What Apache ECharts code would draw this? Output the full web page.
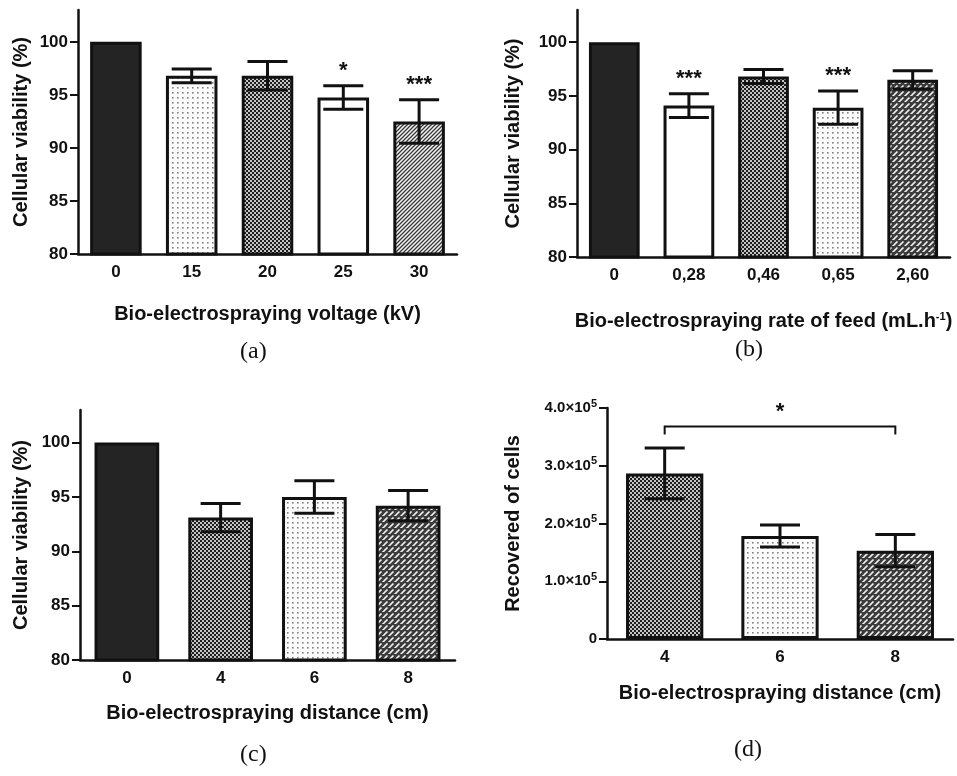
<!DOCTYPE html>
<html lang="en">
<head>
  <meta charset="UTF-8">
  <title>Bio-electrospraying</title>
  <script src="https://cdn.jsdelivr.net/npm/echarts@6/dist/echarts.min.js"></script>
  <style>
    html, body { margin: 0; padding: 0; background: #fff; }
    #main { width: 957px; height: 776px; }
  </style>
</head>
<body>
<div id="main"></div>
<script>
  // (a) voltage
  var catA = ['0', '15', '20', '25', '30'];
  var valA = [100, 96.8, 96.8, 94.75, 92.5];
  var errA = [0, 0.65, 1.35, 1.1, 2.05];
  var sigA = ['', '', '', '*', '***'];
  // (b) rate of feed
  var catB = ['0', '0,28', '0,46', '0,65', '2,60'];
  var valB = [100, 94.1, 96.8, 93.9, 96.5];
  var errB = [0, 1.1, 0.65, 1.55, 0.85];
  var sigB = ['', '***', '', '***', ''];
  // (c) distance
  var catC = ['0', '4', '6', '8'];
  var valC = [100, 93.1, 95.0, 94.2];
  var errC = [0, 1.3, 1.5, 1.4];
  var sigC = ['', '', '', ''];
  // (d) recovered cells
  var catD = ['4', '6', '8'];
  var valD = [286700, 178500, 153000];
  var errD = [44000, 19000, 28000];
  var sigD = ['', '', ''];
  var bracketD = [0, 2, 368000, '*'];

  var pctTicks = [80, 85, 90, 95, 100];

  var FONT = '"Liberation Sans", Arial, sans-serif';

  function makePattern(kind) {
    var c = document.createElement('canvas');
    var ctx = c.getContext('2d');
    if (kind == 'dots') {
      c.width = 5; c.height = 5;
      ctx.fillStyle = '#fbfbfb'; ctx.fillRect(0, 0, 5, 5);
      ctx.fillStyle = '#808080'; ctx.fillRect(2, 2, 1.6, 1.6);
    } else if (kind == 'checker') {
      c.width = 4; c.height = 4;
      ctx.fillStyle = '#c4c4c4'; ctx.fillRect(0, 0, 4, 4);
      ctx.fillStyle = '#1e1e1e';
      ctx.fillRect(0, 0, 2, 2); ctx.fillRect(2, 2, 2, 2);
    } else if (kind == 'hatch') {
      c.width = 4; c.height = 4;
      ctx.fillStyle = '#f4f4f4'; ctx.fillRect(0, 0, 4, 4);
      ctx.strokeStyle = '#3a3a3a'; ctx.lineWidth = 1.3;
      ctx.beginPath();
      ctx.moveTo(-1, 1); ctx.lineTo(1, -1);
      ctx.moveTo(0, 4); ctx.lineTo(4, 0);
      ctx.moveTo(3, 5); ctx.lineTo(5, 3);
      ctx.stroke();
    } else if (kind == 'brick') {
      c.width = 6; c.height = 6;
      ctx.fillStyle = '#3c3c3c'; ctx.fillRect(0, 0, 6, 6);
      ctx.strokeStyle = '#f2f2f2'; ctx.lineWidth = 1.6;
      ctx.beginPath();
      ctx.moveTo(0.5, 4.5); ctx.lineTo(3.5, 1.5);
      ctx.moveTo(3.5, 7.5); ctx.lineTo(6.5, 4.5);
      ctx.moveTo(-2.5, 7.5); ctx.lineTo(0.5, 4.5);
      ctx.stroke();
    } else {
      c.width = 2; c.height = 2;
      ctx.fillStyle = kind == 'solid' ? '#242424' : '#ffffff';
      ctx.fillRect(0, 0, 2, 2);
    }
    return { image: c, repeat: 'repeat' };
  }

  var fillA = ['solid', 'dots', 'checker', 'white', 'hatch'];
  var fillB = ['solid', 'white', 'checker', 'dots', 'brick'];
  var fillC = ['solid', 'checker', 'dots', 'brick'];
  var fillD = ['checker', 'dots', 'brick'];

  function barData(vals, fills) {
    return vals.map(function (v, i) {
      return { value: v, itemStyle: { color: makePattern(fills[i]) } };
    });
  }

  function errData(vals, errs) {
    return vals.map(function (v, i) { return [i, v - errs[i], v + errs[i]]; });
  }

  function errRender(sig) {
    return function (params, api) {
      var lo = api.coord([api.value(0), api.value(1)]);
      var hi = api.coord([api.value(0), api.value(2)]);
      var kids = [];
      var st = { stroke: '#111', lineWidth: 3 };
      var half = 20;
      if (api.value(2) - api.value(1) > 0) {
        kids.push({ type: 'line', shape: { x1: lo[0], y1: lo[1], x2: hi[0], y2: hi[1] }, style: st });
        kids.push({ type: 'line', shape: { x1: hi[0] - half, y1: hi[1], x2: hi[0] + half, y2: hi[1] }, style: st });
        kids.push({ type: 'line', shape: { x1: lo[0] - half, y1: lo[1], x2: lo[0] + half, y2: lo[1] }, style: st });
      }
      var s = sig[params.dataIndex];
      if (s) {
        kids.push({ type: 'text', style: { text: s, x: hi[0], y: hi[1] - 15, align: 'center', verticalAlign: 'middle',
          font: 'bold 22px ' + FONT, fill: '#111' } });
      }
      return { type: 'group', children: kids };
    };
  }

  function bracketRender(params, api) {
    var p1 = api.coord([api.value(0), api.value(2)]);
    var p2 = api.coord([api.value(1), api.value(2)]);
    var st = { stroke: '#111', lineWidth: 2, fill: null };
    return { type: 'group', children: [
      { type: 'polyline', shape: { points: [[p1[0], p1[1] + 8], [p1[0], p1[1]], [p2[0], p2[1]], [p2[0], p2[1] + 8]] }, style: st },
      { type: 'text', style: { text: bracketD[3], x: (p1[0] + p2[0]) / 2, y: p1[1] - 15, align: 'center', verticalAlign: 'middle',
        font: 'bold 22px ' + FONT, fill: '#111' } }
    ] };
  }

  var axisLine = { lineStyle: { color: '#111', width: 2.5 } };
  var axisTick = { length: 8, lineStyle: { color: '#111', width: 2 } };
  var labelStyle = { color: '#111', fontFamily: FONT, fontWeight: 'bold', fontSize: 17 };
  var nameStyle = { color: '#111', fontFamily: FONT, fontWeight: 'bold', fontSize: 20 };

  function xAx(idx, cats, name, gap, rich) {
    var ns = Object.assign({}, nameStyle);
    if (rich) ns.rich = rich;
    return {
      type: 'category', gridIndex: idx, data: cats,
      axisLine: axisLine,
      axisTick: Object.assign({ alignWithLabel: true }, axisTick),
      axisLabel: Object.assign({ margin: 10 }, labelStyle),
      name: name, nameLocation: 'middle', nameGap: gap, nameTextStyle: ns
    };
  }

  function yAxPct(idx, name, gap) {
    return {
      type: 'value', gridIndex: idx, min: 80, max: 103,
      splitLine: { show: false },
      axisLine: Object.assign({ show: true }, axisLine),
      axisTick: Object.assign({ show: true, customValues: pctTicks }, axisTick),
      axisLabel: Object.assign({ margin: 10, customValues: pctTicks }, labelStyle),
      name: name, nameLocation: 'middle', nameGap: gap, nameRotate: 90, nameTextStyle: nameStyle
    };
  }

  var grids = [
    { left: 78, top: 10, width: 379, height: 244 },
    { left: 577, top: 10, width: 373, height: 247 },
    { left: 80, top: 410, width: 375, height: 250 },
    { left: 607, top: 408, width: 346, height: 231 }
  ];

  var supRich = { sup: { fontSize: 11, fontWeight: 'bold', fontFamily: FONT, color: '#111', verticalAlign: 'top', padding: [0, 0, 9, 0] } };

  var option = {
    animation: false,
    backgroundColor: '#fff',
    grid: grids,
    xAxis: [
      xAx(0, catA, 'Bio-electrospraying voltage (kV)', 50),
      xAx(1, catB, 'Bio-electrospraying rate of feed (mL.h{sup|-1})', 54, supRich),
      xAx(2, catC, 'Bio-electrospraying distance (cm)', 43),
      xAx(3, catD, 'Bio-electrospraying distance (cm)', 44)
    ],
    yAxis: [
      yAxPct(0, 'Cellular viability (%)', 47),
      yAxPct(1, 'Cellular viability (%)', 54),
      yAxPct(2, 'Cellular viability (%)', 49),
      {
        type: 'value', gridIndex: 3, min: 0, max: 400000, interval: 100000,
        splitLine: { show: false },
        axisLine: Object.assign({ show: true }, axisLine),
        axisTick: Object.assign({ show: true }, axisTick),
        axisLabel: Object.assign({
          margin: 10,
          formatter: function (v) { return v === 0 ? '0' : (v / 100000).toFixed(1) + '×10{sup|5}'; },
          rich: supRich
        }, labelStyle, { fontSize: 15 }),
        name: 'Recovered of cells', nameLocation: 'middle', nameGap: 84, nameRotate: 90, nameTextStyle: nameStyle
      }
    ],
    series: [
      { type: 'bar', xAxisIndex: 0, yAxisIndex: 0, barWidth: '68%', data: barData(valA, fillA),
        itemStyle: { borderColor: '#111', borderWidth: 3 } },
      { type: 'bar', xAxisIndex: 1, yAxisIndex: 1, barWidth: '68%', data: barData(valB, fillB),
        itemStyle: { borderColor: '#111', borderWidth: 3 } },
      { type: 'bar', xAxisIndex: 2, yAxisIndex: 2, barWidth: '69%', data: barData(valC, fillC),
        itemStyle: { borderColor: '#111', borderWidth: 3 } },
      { type: 'bar', xAxisIndex: 3, yAxisIndex: 3, barWidth: '67%', data: barData(valD, fillD),
        itemStyle: { borderColor: '#111', borderWidth: 3 } },
      { type: 'custom', xAxisIndex: 0, yAxisIndex: 0, renderItem: errRender(sigA), data: errData(valA, errA), z: 5 },
      { type: 'custom', xAxisIndex: 1, yAxisIndex: 1, renderItem: errRender(sigB), data: errData(valB, errB), z: 5 },
      { type: 'custom', xAxisIndex: 2, yAxisIndex: 2, renderItem: errRender(sigC), data: errData(valC, errC), z: 5 },
      { type: 'custom', xAxisIndex: 3, yAxisIndex: 3, renderItem: errRender(sigD), data: errData(valD, errD), z: 5 },
      { type: 'custom', xAxisIndex: 3, yAxisIndex: 3, renderItem: bracketRender, data: [bracketD.slice(0, 3)], z: 5, clip: false }
    ],
    graphic: [
      { type: 'text', left: 240, top: 340, style: { text: '(a)', font: '24px "Liberation Serif", serif', fill: '#111' } },
      { type: 'text', left: 735, top: 338, style: { text: '(b)', font: '24px "Liberation Serif", serif', fill: '#111' } },
      { type: 'text', left: 240, top: 743, style: { text: '(c)', font: '24px "Liberation Serif", serif', fill: '#111' } },
      { type: 'text', left: 734, top: 738, style: { text: '(d)', font: '24px "Liberation Serif", serif', fill: '#111' } }
    ]
  };

  var chart = echarts.init(document.getElementById('main'));
  chart.setOption(option);
</script>
</body>
</html>
